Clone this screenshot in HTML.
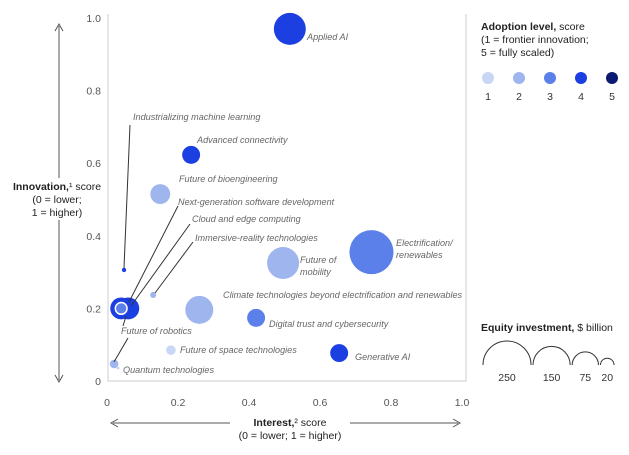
<!DOCTYPE html>
<html><head><meta charset="utf-8"><style>
body{margin:0;background:#fff;}
svg{font-family:"Liberation Sans",sans-serif;}
.lb{font-size:9.1px;font-style:italic;fill:#666;}
.tk{font-size:10.5px;fill:#555;}
</style></head><body>
<svg id="c" width="629" height="450">
<g id="axes"></g><g id="marks"></g><g id="labels"></g>
</svg>
<script>
const names=["Applied AI","Advanced connectivity","Future of bioengineering","Industrializing machine learning","Next-generation software development","Cloud and edge computing","Immersive-reality technologies","Climate technologies beyond electrification and renewables","Digital trust and cybersecurity","Electrification/ renewables","Future of mobility","Generative AI","Future of space technologies","Future of robotics","Quantum technologies"];
const interest=[0.515,0.237,0.15,0.048,0.06,0.04,0.13,0.26,0.42,0.745,0.496,0.654,0.18,0.04,0.02];
const innovation=[0.97,0.623,0.515,0.306,0.2,0.2,0.237,0.196,0.174,0.355,0.325,0.077,0.085,0.2,0.047];
const adoption=[4,4,2,4,4,4,2,2,3,3,2,4,1,3,2];
const investment=[111,35,43,2,52,52,4,85,35,210,111,35,10,15,8];
const xTicks=[0,0.2,0.4,0.6,0.8,1.0];
const yTicks=[0,0.2,0.4,0.6,0.8,1.0];
const legendLevels=[1,2,3,4,5];
const legendInv=[250,150,75,20];
const colors={1:"#c9d7f6",2:"#9fb5ee",3:"#5b80e9",4:"#1b3fe0",5:"#0b1c70"};
const X=v=>107+v*355, Y=v=>381-v*363, R=v=>24*Math.sqrt(v/250);
const NS="http://www.w3.org/2000/svg";
function mk(p,t,a,txt){const e=document.createElementNS(NS,t);for(const k in a)e.setAttribute(k,a[k]);if(txt!=null)e.textContent=txt;p.appendChild(e);return e;}
const ax=document.getElementById('axes'),mg=document.getElementById('marks'),lg=document.getElementById('labels');
let e;
e=mk(ax,'path',{d:"M108,14V381H466V14",fill:"none",stroke:"#ccc","stroke-width":1});

xTicks.forEach(t=>{e=mk(ax,'text',{x:X(t),y:406,"text-anchor":"middle",class:"tk"},t===0?"0":t.toFixed(1));
});
yTicks.forEach(t=>{e=mk(ax,'text',{x:101,y:Y(t)+4,"text-anchor":"end",class:"tk"},t===0?"0":t.toFixed(1));
});
const leaders=[[130,125,124,268],[178,206,129,302],[190,224,131,306],[193,242,155,293],[123,326,126,316],[114,362,128,338]];
leaders.forEach(l=>{e=mk(lg,'line',{x1:l[0],y1:l[1],x2:l[2],y2:l[3],stroke:"#333","stroke-width":1});
});
names.forEach((n,i)=>{e=mk(mg,'circle',{cx:X(interest[i]),cy:Y(innovation[i]),r:Math.max(1.8,R(investment[i])),fill:colors[adoption[i]],stroke:"#fff","stroke-width":i===13?1.5:0});
});
mk(mg,'circle',{cx:118,cy:368,r:1.5,fill:colors[1]});
const labs=[["Applied AI",307,40],["Advanced connectivity",197,143],["Future of  bioengineering",179,182],["Industrializing machine learning",133,120],["Next-generation software development",178,205],["Cloud and edge computing",192,222],["Immersive-reality technologies",195,241],["Climate technologies beyond electrification and renewables",223,298],["Digital trust and cybersecurity",269,327],["Electrification/",396,246],["renewables",396,258],["Future of",300,263],["mobility",300,275],["Generative AI",355,360],["Future of space technologies",180,353],["Future of robotics",121,334],["Quantum technologies",123,373]];
labs.forEach(l=>{e=mk(lg,'text',{x:l[1],y:l[2],class:"lb"},l[0]);
});
e=mk(ax,'path',{d:"M59,26V380M55,31L59,24L63,31M55,375L59,382L63,375",stroke:"#555",fill:"none"});

e=mk(ax,'path',{d:"M113,423H458M118,419L111,423L118,427M453,419L460,423L453,427",stroke:"#555",fill:"none"});

e=mk(ax,'rect',{x:14,y:178,width:88,height:42,fill:"#fff"});
e=mk(ax,'text',{x:57,y:190,"text-anchor":"middle","font-size":"10.5px",fill:"#222"});

e.innerHTML='<tspan font-weight="bold">Innovation,</tspan>¹ score<tspan x="57" dy="13">(0 = lower;</tspan><tspan x="57" dy="13">1 = higher)</tspan>';
e=mk(ax,'rect',{x:230,y:415,width:120,height:14,fill:"#fff"});
e=mk(ax,'text',{x:290,y:426,"text-anchor":"middle","font-size":"10.5px",fill:"#222"});

e.innerHTML='<tspan font-weight="bold">Interest,</tspan>² score<tspan x="290" dy="13">(0 = lower; 1 = higher)</tspan>';
e=mk(lg,'text',{x:481,y:30,"font-size":"10.5px",fill:"#222"});

e.innerHTML='<tspan font-weight="bold">Adoption level,</tspan> score<tspan x="481" dy="13">(1 = frontier innovation;</tspan><tspan x="481" dy="13">5 = fully scaled)</tspan>';
legendLevels.forEach((lv,i)=>{const cx=488+i*31;
e=mk(lg,'circle',{cx:cx,cy:78,r:6,fill:colors[lv]});

mk(lg,'text',{x:cx,y:100,"text-anchor":"middle","font-size":"10.5px",fill:"#333"},lv);});
e=mk(lg,'text',{x:481,y:331,"font-size":"10.5px",fill:"#222"});

e.innerHTML='<tspan font-weight="bold">Equity investment,</tspan> $ billion';
let lx=483;
legendInv.forEach(v=>{const r=R(v);const cx=lx+r;
e=mk(lg,'path',{d:`M${cx-r},365A${r},${r} 0 0 1 ${cx+r},365`,fill:"none",stroke:"#333","stroke-width":1});

mk(lg,'text',{x:cx,y:381,"text-anchor":"middle","font-size":"10.5px",fill:"#333"},v);
lx+=2*r+2;});
</script>
</body></html>
